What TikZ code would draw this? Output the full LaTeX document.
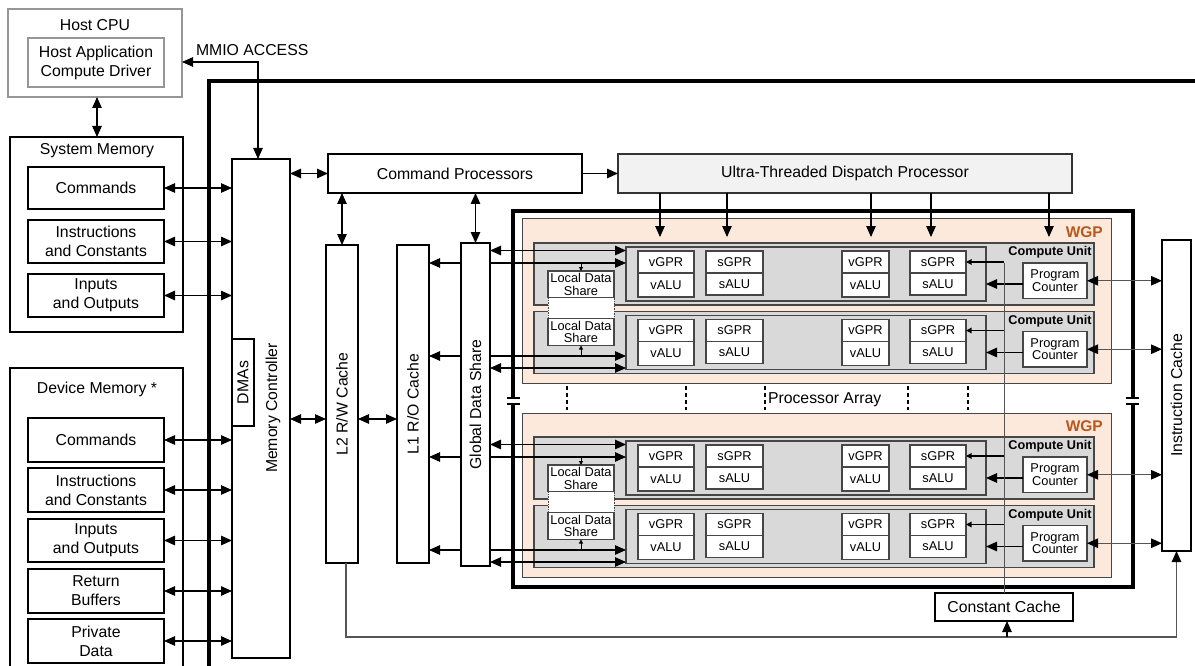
\documentclass[tikz,border=0pt]{standalone}
\usepackage{fontspec}
\setmainfont{Liberation Sans}
\usetikzlibrary{arrows.meta}
\definecolor{peach}{RGB}{252,233,219}
\definecolor{cugray}{RGB}{217,217,217}
\definecolor{utdpgray}{RGB}{242,242,242}
\definecolor{wgpor}{RGB}{184,88,26}
\definecolor{edgegray}{RGB}{70,70,70}
\definecolor{linegray}{RGB}{85,85,85}
\definecolor{hostgray}{RGB}{150,150,150}
\newcommand\Bx[7]{\node[#6, anchor=north west, minimum width={(#4)-(#2)}, minimum height={(#5)-(#3)}] (#1) at (#2,#3) {#7};}
\tikzset{
  base/.style={inner sep=0pt, outer sep=0pt, align=center, font=\fontsize{15.8}{19}\selectfont},
  smallbase/.style={inner sep=0pt, outer sep=0pt, align=center, font=\fontsize{12.8}{12.5}\selectfont},
  wbox/.style={base, draw=black, line width=1.2pt, fill=white},
  memframe/.style={base, draw=black, line width=2pt, fill=white},
  hostbox/.style={base, draw=hostgray, line width=1.2pt, fill=white},
  utdpbox/.style={base, draw=black!80, line width=1.2pt, fill=utdpgray},
  wgpbox/.style={base, draw=edgegray, line width=1pt, fill=peach},
  cubox/.style={base, draw=edgegray, line width=1.1pt, fill=cugray},
  inbox/.style={base, draw=edgegray, line width=1.3pt, fill=cugray},
  cell/.style={smallbase, draw=edgegray, line width=1.2pt, fill=white},
  ldsbox/.style={smallbase, draw=edgegray, line width=1.1pt, fill=white},
  ldsgap/.style={smallbase, draw=edgegray, line width=0.8pt, dash pattern=on 1.5pt off 1pt, fill=white},
  cutitle/.style={inner sep=0pt, font=\bfseries\fontsize{12.7}{13}\selectfont},
  wgplabel/.style={inner sep=0pt, text=wgpor, font=\bfseries\fontsize{15.5}{16}\selectfont},
  tip/.tip={Triangle[length=11pt,width=9.5pt,color=black]},
  stip/.tip={Triangle[length=5.5pt,width=5.5pt,color=black]},
  ttip/.tip={Triangle[length=4pt,width=4pt,color=black]},
  arr/.style={-tip, line width=1.1pt},
  arr2/.style={tip-tip, line width=1.1pt},
  arrB/.style={-tip, line width=1.1pt},
  arrS/.style={-stip, line width=1.1pt},
  arrT/.style={-ttip, line width=0.9pt},
  gline/.style={draw=linegray, line width=1pt},
  dashline/.style={line width=2.2pt, dash pattern=on 4pt off 3pt},
}
\newcommand\CU[2]{%
 \pgfmathsetmacro\Y{#2}%
 \Bx{cu#1}{534}{\Y}{1094}{\Y+62}{cubox}{}
 \Bx{in#1}{626}{\Y+4}{986}{\Y+58}{inbox}{}
 \Bx{vg#1}{638}{\Y+8}{694}{\Y+30}{cell}{vGPR}
 \Bx{va#1}{638}{\Y+30}{694}{\Y+54}{cell}{vALU}
 \Bx{sg#1}{706}{\Y+8}{763}{\Y+30}{cell}{sGPR}
 \Bx{sa#1}{706}{\Y+30}{763}{\Y+52}{cell}{sALU}
 \Bx{vgb#1}{842}{\Y+8}{889}{\Y+30}{cell}{vGPR}
 \Bx{vab#1}{842}{\Y+30}{889}{\Y+54}{cell}{vALU}
 \Bx{sgb#1}{910}{\Y+8}{966}{\Y+30}{cell}{sGPR}
 \Bx{sab#1}{910}{\Y+30}{966}{\Y+52}{cell}{sALU}
 \node[cutitle] (cut#1) at (1050,\Y+9.5) {Compute Unit};
 \Bx{pc#1}{1023}{\Y+20}{1087}{\Y+55.5}{cell}{Program\\Counter}
 \draw[arrB] (pc#1.west |- sab#1.east) -- (in#1.east |- sab#1.east);
 \draw[gline, arr2] (pc#1.east) -- (ic.west |- pc#1.east);
 \draw[arrS] (ccache.north |- sgb#1.east) -- (sgb#1.east);
}
\newcommand\WGP[2]{%
 \pgfmathsetmacro\W{#2}%
 \Bx{wgp#1}{522}{\W}{1111}{\W+164.5}{wgpbox}{}
 \node[wgplabel, anchor=east] (wgplab#1) at (1103,\W+13) {WGP};
 \CU{#1a}{\W+24}
 \CU{#1b}{\W+92.5}
 \pgfmathsetmacro\W{#2}%
 \Bx{ldsg#1}{548}{\W+78.5}{614}{\W+99.5}{ldsgap}{}
 \Bx{ldsa#1}{548}{\W+52}{614}{\W+78.5}{ldsbox}{Local Data\\Share}
 \Bx{ldsb#1}{548}{\W+99.5}{614}{\W+126.5}{ldsbox}{Local Data\\Share}
 \draw[arr2] (gds.east |- 0,\W+31.5) -- (in#1a.west |- 0,\W+31.5);
 \draw[arr] (gds.east |- 0,\W+44) -- (in#1a.west |- 0,\W+44);
 \draw[arr] (gds.west |- 0,\W+44) -- (l1.east |- 0,\W+44);
 \draw[arr] (gds.east |- 0,\W+137) -- (in#1b.west |- 0,\W+137);
 \draw[arr] (gds.west |- 0,\W+137) -- (l1.east |- 0,\W+137);
 \draw[arr2] (gds.east |- 0,\W+149) -- (in#1b.west |- 0,\W+149);
 \draw[arrT] (ldsa#1.north |- 0,\W+44) -- (ldsa#1.north);
 \draw[arrT] (ldsb#1.south |- 0,\W+137) -- (ldsb#1.south);
}
\begin{document}
\begin{tikzpicture}[x=1pt,y=-1pt]
\clip (0,0) rectangle (1195,666);
\fill[white] (0,0) rectangle (1195,666);
% host
\Bx{host}{8}{9}{182}{97}{hostbox}{}
\node[base] (hostlab) at (95,25) {Host CPU};
\Bx{hostapp}{28}{38}{164}{87}{hostbox}{Host Application\\Compute Driver}
\node[base, anchor=west] (mmio) at (196,50) {MMIO ACCESS};
% system memory
\Bx{sysmem}{10}{137}{183}{332}{memframe}{}
\node[base] (sysmemlab) at (97,151) {System Memory};
\Bx{scmd}{28}{167}{164}{209}{wbox}{Commands}
\Bx{sins}{28}{220}{164}{263}{wbox}{Instructions\\and Constants}
\Bx{sio}{28}{274}{164}{317}{wbox}{Inputs\\and Outputs}
% device memory
\Bx{devmem}{10}{368}{183}{720}{memframe}{}
\node[base] (devmemlab) at (97,389) {Device Memory *};
\Bx{dcmd}{28}{418}{164}{462}{wbox}{Commands}
\Bx{dins}{28}{468}{164}{512}{wbox}{Instructions\\and Constants}
\Bx{dio}{28}{519}{164}{562}{wbox}{Inputs\\and Outputs}
\Bx{dret}{28}{569}{164}{613}{wbox}{Return\\Buffers}
\Bx{dpriv}{28}{619}{164}{663}{wbox}{Private\\Data}
% thick boundary
\draw[line width=4pt] (209,720) -- (209,81) -- (1210,81);
% memory controller
\Bx{memctrl}{232}{159}{290}{658}{wbox}{}
\node[base, rotate=90] (memctrllab) at (273,408) {Memory Controller};
\Bx{dma}{232}{339}{254}{426}{wbox}{}
\node[base, rotate=90] (dmalab) at (dma.center) {DMAs};
% caches
\Bx{l2}{326}{245}{358}{563}{wbox}{}
\node[base, rotate=90] (l2lab) at (l2.center) {L2 R/W Cache};
\Bx{l1}{397}{245}{429}{563}{wbox}{}
\node[base, rotate=90] (l1lab) at (l1.center) {L1 R/O Cache};
\Bx{gds}{461}{243}{490}{566}{wbox}{}
\node[base, rotate=90] (gdslab) at (gds.center) {Global Data Share};
\Bx{ic}{1162}{240}{1191}{551}{wbox}{}
\node[base, rotate=90] (iclab) at (ic.center) {Instruction Cache};
% processors
\Bx{cp}{328}{154}{582}{193}{wbox}{Command Processors}
\Bx{utdp}{618}{154}{1072}{193}{utdpbox}{Ultra-Threaded Dispatch Processor}
% processor array
\Bx{parr}{513}{211}{1133}{587}{base}{}
\draw[line width=3.2pt] (parr.north west) rectangle (parr.south east);
\Bx{ccache}{935}{593}{1073}{621}{wbox}{Constant Cache}
\WGP{1}{219}
\WGP{2}{413}
\node[base, anchor=west] (palab) at (768,400) {Processor Array};
\foreach \xx in {567,686,765,908,968} \draw[dashline] (\xx,386) -- (\xx,410);
% break marks
\fill[white] (509,398.5) rectangle (517,403.5);
\fill[white] (1129,398.5) rectangle (1137,403.5);
\draw[line width=1.2pt] (507,398) -- (520,398) (507,404) -- (520,404);
\draw[line width=1.2pt] (1126,398) -- (1139,398) (1126,404) -- (1139,404);
% constant cache vertical line
\draw[gline] (ccache.north) -- (ccache.north |- 0,263);
% dispatch arrows
\foreach \xx in {660,727,871,931,1049} \draw[arr] (utdp.south -| \xx,0) -- (\xx,237);
% connectors
\draw[arr2] (host.south -| 97,0) -- (sysmem.north -| 97,0);
\draw[arr2] (host.east |- 0,62) -- (258,62) -- (memctrl.north -| 258,0);
\foreach \b in {scmd,sins,sio,dcmd,dins,dio,dret,dpriv}
  \draw[arr2] (\b.east) -- (memctrl.west |- \b.east);
\draw[arr2] (memctrl.east |- cp.west) -- (cp.west);
\draw[arr] (cp.east) -- (utdp.west);
\draw[arr2] (cp.south -| l2.north) -- (l2.north);
\draw[arr2] (cp.south -| gds.north) -- (gds.north);
\draw[arr2] (memctrl.east |- 0,419) -- (l2.west |- 0,419);
\draw[arr2] (l2.east |- 0,419) -- (l1.west |- 0,419);
\draw[gline, arr] ([xshift=4pt]l2.south) -- ([xshift=4pt]l2.south |- 0,637) -- (ic.south |- 0,637) -- (ic.south);
\draw[arr] ([xshift=3pt]ccache.south |- 0,637) -- ([xshift=3pt]ccache.south);
\end{tikzpicture}
\end{document}
